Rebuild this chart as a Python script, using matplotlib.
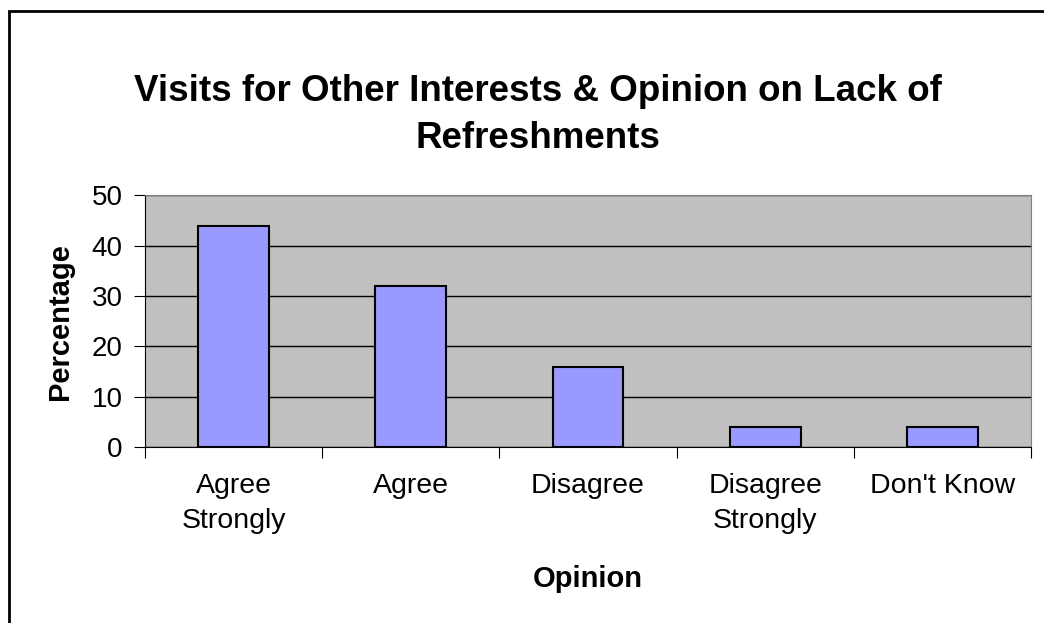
import matplotlib.pyplot as plt
from matplotlib.patches import Rectangle

# Opinion categories and percentage of respondents
opinions = ['Agree\nStrongly', 'Agree', 'Disagree', 'Disagree\nStrongly', "Don't Know"]
percentages = [44, 32, 16, 4, 4]

plt.rcParams['font.family'] = ['Liberation Sans', 'DejaVu Sans']

fig = plt.figure(figsize=(10.44, 6.23), dpi=100)

# black frame around the whole chart
fig.patches.append(Rectangle((9 / 1044, -0.01), 1.02, 1 - 11 / 623 + 0.01,
                             transform=fig.transFigure, fill=False,
                             edgecolor='black', linewidth=2))

ax = fig.add_axes([0.1389, 0.2825, 0.8487, 0.4037])
ax.set_facecolor('#C0C0C0')

x = list(range(len(opinions)))
ax.bar(x, percentages, width=0.4, color='#9999FF', edgecolor='black', linewidth=1.5, zorder=3)

ax.set_ylim(0, 50)
ax.set_xlim(-0.5, len(opinions) - 0.5)
ax.set_yticks([0, 10, 20, 30, 40, 50])
ax.yaxis.grid(True, color='black', linewidth=1)
ax.set_axisbelow(True)

# ticks between categories, labels at the centres
ax.set_xticks([i - 0.5 for i in range(len(opinions) + 1)])
ax.set_xticklabels([])
ax.set_xticks(x, minor=True)
ax.set_xticklabels(opinions, minor=True, fontsize=20.5, linespacing=1.45)
ax.tick_params(axis='x', which='major', length=8, direction='out', color='black')
ax.tick_params(axis='x', which='minor', length=0, pad=19)
ax.tick_params(axis='y', length=8, labelsize=20, pad=8)

for side in ['top', 'right']:
    ax.spines[side].set_color('#808080')
for side in ['left', 'bottom']:
    ax.spines[side].set_color('black')

ax.set_xlabel('Opinion', fontsize=21, fontweight='bold', labelpad=22)
ax.set_ylabel('Percentage', fontsize=21, fontweight='bold', labelpad=13)

fig.text(0.515, 0.815, 'Visits for Other Interests & Opinion on Lack of\nRefreshments',
         ha='center', va='center', fontsize=26.5, fontweight='bold', linespacing=1.45)

fig.savefig('out.png', dpi=100)
